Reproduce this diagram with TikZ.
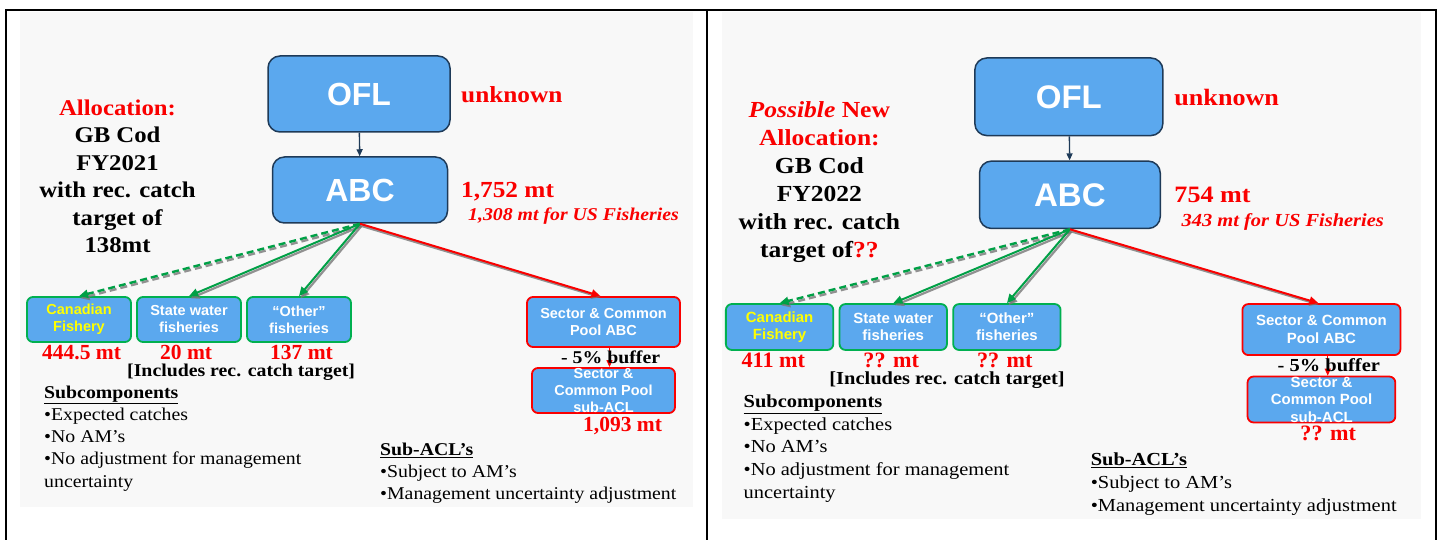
\documentclass[tikz,border=0pt]{standalone}
\usepackage{fontspec}
\setmainfont{Liberation Serif}
\newfontfamily\wserif[FakeStretch=1.1]{Liberation Serif}
\newfontfamily\boxsans{Liberation Sans}
\usetikzlibrary{arrows.meta}
\definecolor{myred}{RGB}{250,0,0}
\definecolor{myyellow}{RGB}{255,255,0}
\definecolor{boxblue}{RGB}{91,168,238}
\definecolor{navy}{RGB}{30,58,88}
\definecolor{boxgreen}{RGB}{0,176,80}
\definecolor{arrgreen}{RGB}{0,160,70}
\definecolor{slidebg}{RGB}{248,248,248}
\definecolor{shadowgray}{RGB}{120,120,120}
\tikzset{
  bigbox/.style={draw=navy, line width=1.5, fill=boxblue, rounded corners=12,
    minimum width=182, minimum height=76, inner sep=0, text=white,
    font={\boxsans\bfseries\fontsize{32}{32}\selectfont}},
  smallbox/.style={fill=boxblue, line width=1.8, rounded corners=6, inner sep=0,
    align=center, text=white, font={\boxsans\bfseries\fontsize{14.5}{17}\selectfont}},
  greenbox/.style={smallbox, draw=boxgreen, minimum width=104, minimum height=45},
  redbox/.style={smallbox, draw=myred, minimum width=153, minimum height=50},
  boxtext/.style={inner sep=0, align=center, text=white,
    font={\boxsans\bfseries\fontsize{14.5}{17}\selectfont}},
  redlbl/.style={inner sep=0, text=myred, font={\wserif\bfseries\fontsize{23}{27}\selectfont}},
  redit/.style={inner sep=0, text=myred, font={\wserif\bfseries\itshape\fontsize{18}{22}\selectfont}},
  lefttxt/.style={inner sep=0, align=center, font={\wserif\bfseries\fontsize{22.5}{27.4}\selectfont}},
  valtxt/.style={inner sep=0, text=myred, font={\bfseries\fontsize{21.5}{25}\selectfont}},
  blacklbl/.style={inner sep=0, font={\wserif\bfseries\fontsize{18}{22}\selectfont}},
  bullettxt/.style={inner sep=0, align=left, font={\wserif\fontsize{18}{22.2}\selectfont}},
  darkarrow/.style={draw=navy, line width=1.4, -{Triangle[length=7,width=6]}},
  greenarrow/.style={draw=arrgreen, line width=2, -{Triangle[length=9,width=8]}},
  redarrow/.style={draw=myred, line width=2, -{Triangle[length=9,width=8]}},
  shadowline/.style={draw=shadowgray, line width=2.2, -{Triangle[length=9,width=8]}, opacity=0.8},
  dashgreen/.style={dash pattern=on 7 off 4, line width=2.4},
  redthin/.style={draw=myred, line width=1.2, -{Triangle[length=7,width=6]}},
}
% #1 prefix, #2 left block, #3 top of left block, #4 ABC value, #5 US value,
% #6 canadian, #7 state, #8 other, #9 sub-ACL value
\newcommand\drawpanel[9]{%
  \node[bigbox] (#1ofl) at (359,94) {OFL};
  \node[bigbox, minimum width=175, minimum height=66] (#1abc) at (360,190) {ABC};
  \draw[darkarrow] (#1ofl) -- (#1abc);
  \node[redlbl, anchor=base west] (#1unk) at (461,103) {unknown};
  \node[redlbl, anchor=base west] (#1abcv) at (461,198) {#4};
  \node[redit, anchor=base west] (#1us) at (468,221) {#5};
  \node[lefttxt, anchor=north] (#1alloc) at (117.5,#3) {#2};
  \node[greenbox, text=myyellow] (#1can) at (79,319.5) {Canadian\\Fishery};
  \node[greenbox] (#1st) at (189,319.5) {State water\\fisheries};
  \node[greenbox] (#1ot) at (299,319.5) {“Other”\\fisheries};
  \node[redbox] (#1sec) at (603.5,322) {Sector \& Common\\Pool ABC};
  \node[redbox, minimum width=143, minimum height=45] (#1sub) at (603.5,390.5) {};
  \node[boxtext] (#1subt) at (#1sub.center) {Sector \&\\Common Pool\\sub-ACL};
  % shadows
  \draw[shadowline, dashgreen] ([shift={(1.5,2.2)}]#1abc.south) -- ([shift={(1.5,2.2)}]#1can.north);
  \draw[shadowline] ([shift={(1.5,2.2)}]#1abc.south) -- ([shift={(1.5,2.2)}]#1st.north);
  \draw[shadowline] ([shift={(1.5,2.2)}]#1abc.south) -- ([shift={(1.5,2.2)}]#1ot.north);
  \draw[shadowline] ([shift={(1.5,2.2)}]#1abc.south) -- ([shift={(-3,1.2)}]#1sec.north);
  % arrows
  \draw[greenarrow, dashgreen] (#1abc.south) -- (#1can.north);
  \draw[greenarrow] (#1abc.south) -- (#1st.north);
  \draw[greenarrow] (#1abc.south) -- (#1ot.north);
  \draw[redarrow] (#1abc.south) -- ([xshift=-3]#1sec.north);
  \draw[redthin] ([xshift=6]#1sec.south) -- ([xshift=6]#1sub.north);
  % values
  \node[valtxt, anchor=base west] (#1canv) at (42,359.5) {#6};
  \node[valtxt, anchor=base west] (#1stv) at (160,359.5) {#7};
  \node[valtxt, anchor=base west] (#1otv) at (270,359.5) {#8};
  \node[blacklbl, anchor=base west] (#1incl) at (127,376) {[Includes rec. catch target]};
  \node[blacklbl, anchor=base west] (#1buf) at (561,363) {- 5\% buffer};
  \node[valtxt, anchor=base west] (#1subv) at (583,431) {#9};
  \node[bullettxt, anchor=north west] (#1subc) at (44,385.7)
    {\textbf{\underline{Subcomponents}}\\•Expected catches\\•No AM’s\\•No adjustment for management\\uncertainty};
  \node[bullettxt, anchor=north west] (#1subacl) at (380,442.7)
    {\textbf{\underline{Sub-ACL’s}}\\•Subject to AM’s\\•Management uncertainty adjustment};
}
\begin{document}
\begin{tikzpicture}[x=1pt,y=-1pt]
  \useasboundingbox (0,0) rectangle (1441,540);
  \fill[white] (0,0) rectangle (1441,540);
  \fill[slidebg] (20,12) rectangle (693,507);
  \fill[slidebg] (722,12) rectangle (1421,519);
  \draw[line width=2] (6,541) -- (6,10) -- (1436,10) -- (1436,541);
  \draw[line width=2] (707,10) -- (707,541);
  \begin{scope}
    \drawpanel{L}{{\color{myred}Allocation:}\\GB Cod\\FY2021\\with rec. catch\\target of\\138mt}{99.6}%
      {1,752 mt}{1,308 mt for US Fisheries}{444.5 mt}{20 mt}{137 mt}{1,093 mt}
  \end{scope}
  \begin{scope}[shift={(698,0.8)}, xscale=1.033, yscale=1.021, transform shape]
    \drawpanel{R}{{\color{myred}\textit{Possible} New}\\{\color{myred}Allocation:}\\GB Cod\\FY2022\\with rec. catch\\target of{\color{myred}??}}{98.6}%
      {754 mt}{343 mt for US Fisheries}{411 mt}{?? mt}{?? mt}{?? mt}
  \end{scope}
\end{tikzpicture}
\end{document}
